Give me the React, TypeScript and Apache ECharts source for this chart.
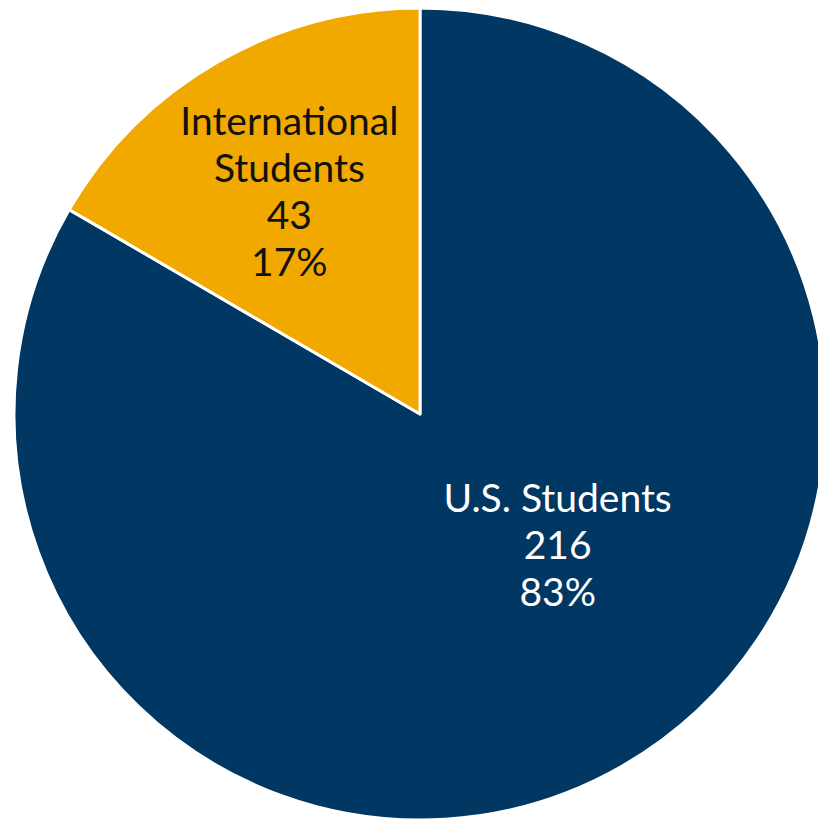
import React, { useEffect, useRef } from "react";
import * as echarts from "echarts";

const categories = ["U.S. Students", "International\nStudents"];
const values = [216, 43];
const percents = ["83%", "17%"];
const colors = ["#003763", "#F1A900"];
const textColors = ["#FFFFFF", "#111111"];
const labelShift = [
  { dx: 35, dy: -49 },
  { dx: -28, dy: -45 },
];

export default function App() {
  const ref = useRef<HTMLDivElement>(null);
  useEffect(() => {
    if (!ref.current) return;
    const chart = echarts.init(ref.current, null, { renderer: "svg" });
    chart.setOption({
      animation: false,
      backgroundColor: "#ffffff",
      series: [
        {
          type: "pie",
          center: [420, 414],
          radius: [0, 406],
          startAngle: 90,
          clockwise: true,
          avoidLabelOverlap: false,
          itemStyle: { borderColor: "#ffffff", borderWidth: 3 },
          label: {
            show: true,
            position: "inside",
            fontFamily: "Lato, 'Open Sans', sans-serif",
            fontSize: 39,
            lineHeight: 47,
            align: "center",
          },
          labelLine: { show: false },
          labelLayout: (p: any) => labelShift[p.dataIndex],
          data: categories.map((c, i) => ({
            name: c,
            value: values[i],
            itemStyle: { color: colors[i] },
            label: {
              color: textColors[i],
              formatter: `${c}\n${values[i]}\n${percents[i]}`,
            },
          })),
        },
      ],
    });
    return () => chart.dispose();
  }, []);
  return (
    <div
      ref={ref}
      style={{ position: "absolute", left: 0, top: 0, width: 818, height: 819 }}
    />
  );
}
